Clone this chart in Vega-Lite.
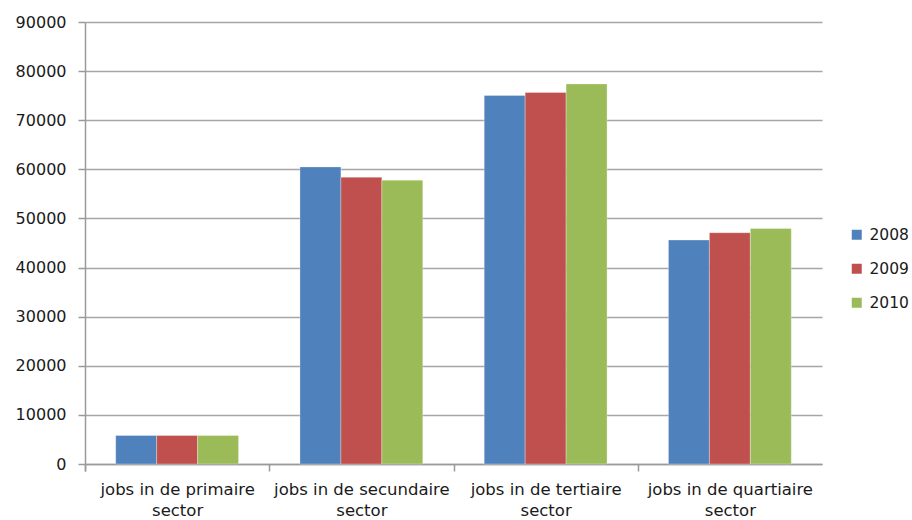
{
  "$schema": "https://vega.github.io/schema/vega-lite/v6.json",
  "autosize": "none",
  "width": 737,
  "height": 442,
  "padding": {"left": 85, "top": 22, "right": 90, "bottom": 56},
  "background": "white",
  "config": {"view": {"stroke": null}, "font": "DejaVu Sans"},
  "data": {"values": [
    {"sector": "jobs in de primaire|sector", "year": "2008", "jobs": 5800},
    {"sector": "jobs in de primaire|sector", "year": "2009", "jobs": 5800},
    {"sector": "jobs in de primaire|sector", "year": "2010", "jobs": 5800},
    {"sector": "jobs in de secundaire|sector", "year": "2008", "jobs": 60500},
    {"sector": "jobs in de secundaire|sector", "year": "2009", "jobs": 58400},
    {"sector": "jobs in de secundaire|sector", "year": "2010", "jobs": 57800},
    {"sector": "jobs in de tertiaire|sector", "year": "2008", "jobs": 75050},
    {"sector": "jobs in de tertiaire|sector", "year": "2009", "jobs": 75650},
    {"sector": "jobs in de tertiaire|sector", "year": "2010", "jobs": 77400},
    {"sector": "jobs in de quartiaire|sector", "year": "2008", "jobs": 45600},
    {"sector": "jobs in de quartiaire|sector", "year": "2009", "jobs": 47100},
    {"sector": "jobs in de quartiaire|sector", "year": "2010", "jobs": 47950}
  ]},
  "mark": {"type": "bar", "stroke": "white", "strokeWidth": 0.5, "strokeOpacity": 0.6},
  "encoding": {
    "x": {
      "field": "sector", "type": "nominal", "sort": null,
      "scale": {"paddingInner": 0.3333, "paddingOuter": 0.1667},
      "axis": {
        "title": null, "labelAngle": 0, "labelExpr": "split(datum.label, '|')",
        "labelFontSize": 16.5, "labelColor": "#1a1a1a", "labelPadding": 10, "labelLineHeight": 21,
        "labelOffset": 30.7,
        "domainColor": "#9a9a9a", "domainWidth": 1.5, "tickColor": "#9a9a9a", "tickWidth": 1.5, "tickSize": 7,
        "bandPosition": 0, "tickOffset": -30.7, "tickExtra": true, "grid": false
      }
    },
    "xOffset": {"field": "year", "type": "nominal"},
    "y": {
      "field": "jobs", "type": "quantitative",
      "scale": {"domain": [0, 90000], "nice": false},
      "axis": {
        "title": null, "values": [0,10000,20000,30000,40000,50000,60000,70000,80000,90000],
        "format": "d", "labelFontSize": 16, "labelColor": "#1a1a1a", "labelPadding": 12,
        "gridColor": "#a6a6a6", "gridWidth": 1.5, "domainColor": "#9a9a9a", "domainWidth": 1.5,
        "tickColor": "#9a9a9a", "tickWidth": 1.5, "tickSize": 7
      }
    },
    "color": {
      "field": "year", "type": "nominal",
      "scale": {"range": ["#4F81BD", "#C0504D", "#9BBB59"]},
      "legend": {
        "title": null, "orient": "none", "legendX": 764, "legendY": 205,
        "symbolType": "square", "symbolSize": 100, "symbolStrokeWidth": 0,
        "labelFontSize": 15.5, "labelColor": "#1a1a1a", "rowPadding": 17, "labelOffset": 5
      }
    }
  }
}
